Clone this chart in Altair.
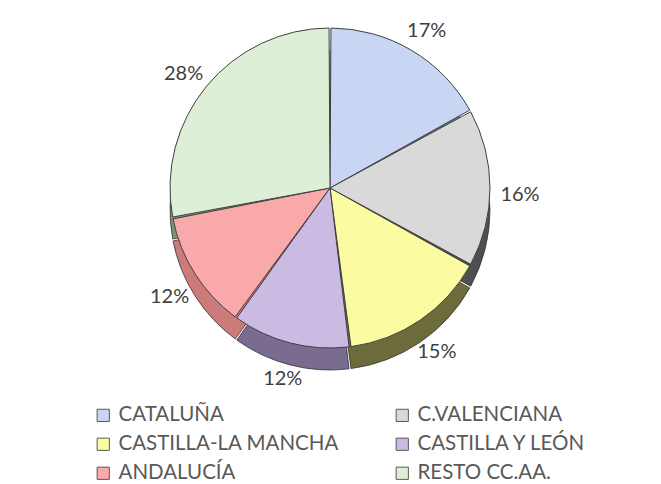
import altair as alt
import pandas as pd

regions = ["CATALUÑA", "C.VALENCIANA", "CASTILLA-LA MANCHA", "CASTILLA Y LEÓN", "ANDALUCÍA", "RESTO CC.AA."]
shares = [17, 16, 15, 12, 12, 28]
top_colors = ["#c8d6f3", "#d9d9d9", "#fbfba2", "#cbbbe3", "#f9a9a9", "#ddf0d7"]
side_colors = ["#6d7a96", "#4f4f4f", "#6b6b3c", "#7a6b91", "#cd7a7a", "#7d9475"]

# legend fills column by column: reorder so it reads row by row as in the reference
legend_idx = [0, 2, 4, 1, 3, 5]
legend_domain = [regions[i] for i in legend_idx]
legend_range = [top_colors[i] for i in legend_idx]

df = pd.DataFrame({
    "region": regions,
    "share": shares,
    "order": list(range(len(regions))),
    "side": side_colors,
    "label": [f"{s}%" for s in shares],
})

base = alt.Chart(df).encode(
    theta=alt.Theta("share:Q", stack=True),
    order=alt.Order("order:Q"),
    x=alt.value(322),
    y=alt.value(180),
)

side = base.mark_arc(radius=160, yOffset=22, stroke="#333333", strokeWidth=0.8, padAngle=0.012).encode(
    fill=alt.Fill("side:N", scale=None, legend=None)
)

top = base.mark_arc(radius=160, stroke="#404040", strokeWidth=1, padAngle=0.012).encode(
    color=alt.Color(
        "region:N",
        scale=alt.Scale(domain=legend_domain, range=legend_range),
        legend=alt.Legend(
            orient="none", legendX=85, legendY=397, columns=2, columnPadding=52,
            rowPadding=8, symbolType="square", symbolSize=150,
            symbolStrokeColor="#595959", symbolStrokeWidth=1,
            labelFont="Lato", labelFontSize=20.5, labelColor="#595959",
            labelLimit=400, title=None, labelOffset=5,
        ),
    )
)

labels = base.mark_text(radius=190, fontSize=20, font="Lato", color="#404040", yOffset=7).encode(
    text="label:N"
)

chart = (side + top + labels).properties(width=645, height=390, padding=0).configure_view(stroke=None)

chart.save("out.html", embed_options={"renderer": "svg", "actions": False})
